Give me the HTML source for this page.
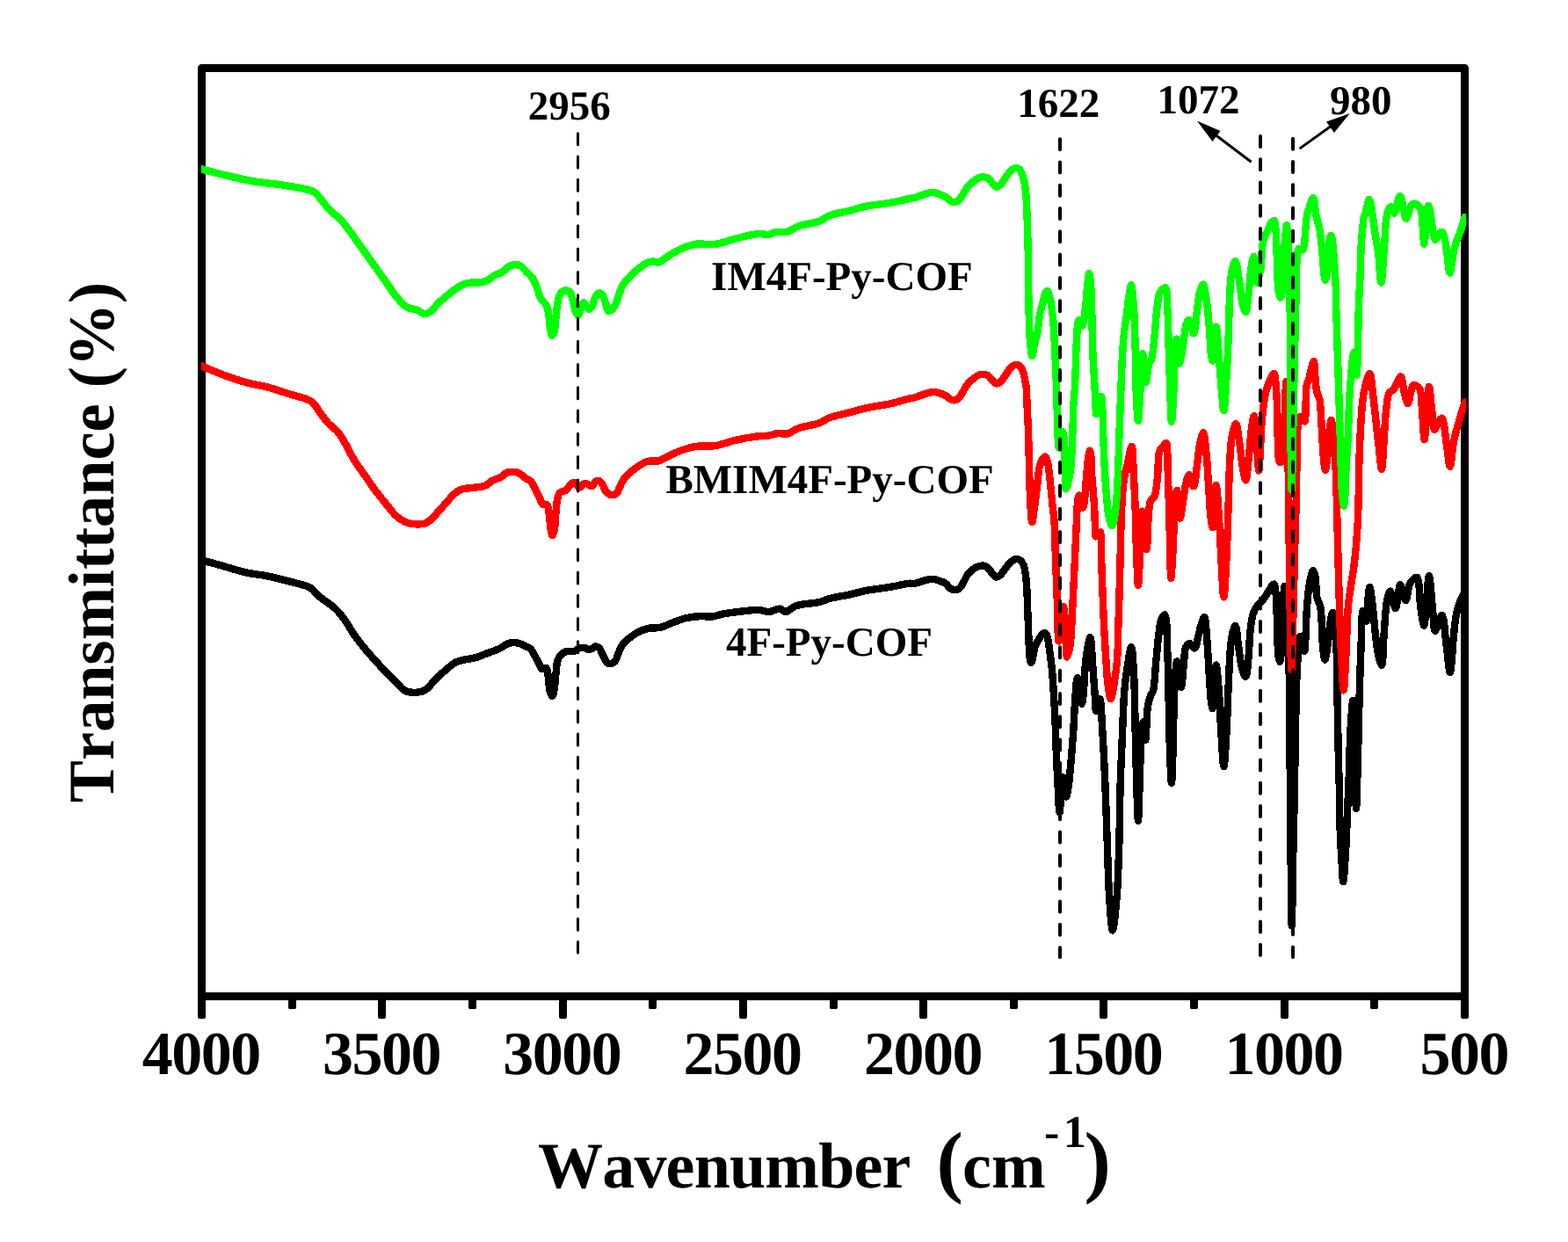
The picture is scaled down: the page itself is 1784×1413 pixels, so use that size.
<!DOCTYPE html>
<html lang="en"><head><meta charset="utf-8"><title>FT-IR spectra</title>
<style>
html,body{margin:0;padding:0;background:#fff;}
body{width:1784px;height:1413px;overflow:hidden;}
svg{display:block;}
text{font-family:"Liberation Serif","DejaVu Serif",serif;font-weight:bold;fill:#000;font-kerning:none;font-variant-ligatures:none;text-rendering:geometricPrecision;}
.curve{fill:none;stroke-linejoin:round;stroke-linecap:round;shape-rendering:crispEdges;}
.dash{stroke:#000;fill:none;}
</style></head><body>
<svg width="1784" height="1413" viewBox="0 0 1784 1413">
<rect x="0" y="0" width="1784" height="1413" fill="#fff"/>
<rect x="229.5" y="77.5" width="1437.0" height="1056.0" fill="none" stroke="#000" stroke-width="9" stroke-linejoin="round"/>
<rect x="225" y="1133.5" width="9" height="25.5" rx="2.2" fill="#000"/>
<rect x="328" y="1133.5" width="9" height="14.6" rx="2.2" fill="#000"/>
<rect x="430" y="1133.5" width="9" height="25.5" rx="2.2" fill="#000"/>
<rect x="533" y="1133.5" width="9" height="14.6" rx="2.2" fill="#000"/>
<rect x="636" y="1133.5" width="9" height="25.5" rx="2.2" fill="#000"/>
<rect x="738" y="1133.5" width="9" height="14.6" rx="2.2" fill="#000"/>
<rect x="841" y="1133.5" width="9" height="25.5" rx="2.2" fill="#000"/>
<rect x="944" y="1133.5" width="9" height="14.6" rx="2.2" fill="#000"/>
<rect x="1046" y="1133.5" width="9" height="25.5" rx="2.2" fill="#000"/>
<rect x="1149" y="1133.5" width="9" height="14.6" rx="2.2" fill="#000"/>
<rect x="1251" y="1133.5" width="9" height="25.5" rx="2.2" fill="#000"/>
<rect x="1354" y="1133.5" width="9" height="14.6" rx="2.2" fill="#000"/>
<rect x="1457" y="1133.5" width="9" height="25.5" rx="2.2" fill="#000"/>
<rect x="1559" y="1133.5" width="9" height="14.6" rx="2.2" fill="#000"/>
<rect x="1662" y="1133.5" width="9" height="25.5" rx="2.2" fill="#000"/>
<text x="228.8" y="1221.8" font-size="70" letter-spacing="-1.5" text-anchor="middle">4000</text>
<text x="434.0" y="1221.8" font-size="70" letter-spacing="-1.5" text-anchor="middle">3500</text>
<text x="639.3" y="1221.8" font-size="70" letter-spacing="-1.5" text-anchor="middle">3000</text>
<text x="844.6" y="1221.8" font-size="70" letter-spacing="-1.5" text-anchor="middle">2500</text>
<text x="1049.9" y="1221.8" font-size="70" letter-spacing="-1.5" text-anchor="middle">2000</text>
<text x="1255.2" y="1221.8" font-size="70" letter-spacing="-1.5" text-anchor="middle">1500</text>
<text x="1460.5" y="1221.8" font-size="70" letter-spacing="-1.5" text-anchor="middle">1000</text>
<text x="1665.8" y="1221.8" font-size="70" letter-spacing="-1.5" text-anchor="middle">500</text>
<text y="1351" font-size="74"><tspan x="612" letter-spacing="-0.8">Wavenumber</tspan> <tspan x="1065.4" font-size="91">(</tspan><tspan x="1095.1">cm</tspan><tspan x="1188" y="1305.3" font-size="52" dx="0 4.5">-1</tspan><tspan x="1233.4" y="1351" font-size="91">)</tspan></text>
<text transform="translate(129.2,617) rotate(-90) scale(0.977,1)" font-size="74" text-anchor="middle">Transmittance (%)</text>
<defs><clipPath id="plotclip"><rect x="228.8" y="70" width="1439.4" height="1068"/></clipPath></defs>
<g clip-path="url(#plotclip)">
<path class="curve" d="M229.3,637.2C229.3,637.2 245.7,641.7 254.0,644.0C262.4,646.4 271.0,649.4 279.5,651.3C287.9,653.2 296.5,653.8 304.9,655.5C313.4,657.3 322.6,659.8 330.4,661.8C337.1,663.5 344.9,665.3 349.1,666.9C351.4,667.8 352.3,668.1 354.2,669.5C357.2,671.6 360.7,676.5 364.4,679.6C368.1,682.7 372.7,685.2 376.3,688.1C379.5,690.6 382.1,692.9 384.8,695.8C387.8,699.0 390.4,702.7 393.3,706.8C396.7,711.6 399.8,717.8 403.5,723.0C407.2,728.3 411.4,733.4 415.4,738.3C419.3,743.0 423.1,747.3 427.2,751.8C431.5,756.6 436.6,761.9 440.8,766.3C444.4,770.0 447.8,773.3 451.0,776.5C454.0,779.5 456.6,783.2 459.5,785.0C461.7,786.4 463.6,787.1 466.3,787.5C470.0,788.0 476.4,787.7 479.9,786.7C482.4,786.0 483.8,785.0 485.9,783.3C488.8,781.0 492.0,776.4 495.2,773.1C498.5,769.8 503.0,765.9 505.4,763.7C506.7,762.5 507.1,762.1 508.5,761.0C510.9,759.1 515.3,755.1 518.7,753.4C521.5,752.0 524.0,751.6 527.2,750.8C531.2,749.8 536.3,749.5 540.8,748.3C545.4,747.0 549.9,744.9 554.4,743.2C558.9,741.5 564.1,740.0 568.0,738.1C571.2,736.5 573.9,734.2 576.4,733.0C578.3,732.1 579.6,731.6 581.5,731.3C583.9,731.0 587.4,731.2 590.0,731.8C592.4,732.4 594.5,733.7 596.8,734.7C599.1,735.8 601.7,736.3 603.6,738.1C605.8,740.1 607.1,743.8 608.7,746.6C610.2,749.2 611.7,751.7 613.0,754.2C614.2,756.5 614.8,760.2 616.4,761.0C617.8,761.7 620.3,759.3 621.5,760.1C623.1,761.2 623.1,765.9 623.7,769.5C624.5,774.3 624.5,782.5 625.7,786.5C626.4,788.9 627.5,792.0 628.3,791.9C629.3,791.8 630.1,786.5 630.8,783.1C631.7,778.4 631.9,771.4 632.5,766.1C633.0,761.3 633.1,756.2 634.2,752.5C635.0,749.8 636.0,747.6 637.6,745.7C639.3,743.7 641.9,741.8 644.4,741.0C647.0,740.2 650.3,741.7 652.9,741.0C655.4,740.4 657.4,737.8 659.7,737.2C661.7,736.7 663.8,736.9 665.6,737.2C667.2,737.5 668.5,738.8 669.9,738.9C671.1,739.0 672.1,738.6 673.3,738.1C674.7,737.5 676.1,735.6 677.5,735.5C678.9,735.4 680.6,736.1 681.8,737.2C683.6,738.8 684.6,743.0 686.0,745.7C687.4,748.3 688.6,751.9 690.3,753.4C691.5,754.5 693.0,755.2 694.5,755.1C696.1,755.0 698.2,754.0 699.6,752.5C701.6,750.4 702.4,745.5 703.9,742.3C705.3,739.3 706.2,736.4 708.1,733.8C710.1,731.0 713.0,728.5 715.7,726.2C718.4,724.0 720.9,722.0 724.2,720.2C728.1,718.1 733.2,715.8 737.8,714.8C742.3,713.8 747.1,714.9 751.4,713.9C755.6,713.0 759.0,710.8 763.3,709.2C768.4,707.3 774.6,704.6 780.3,703.2C785.8,701.9 791.7,701.3 797.0,701.1C801.8,700.9 806.3,702.1 810.6,701.6C814.7,701.1 817.8,699.4 822.5,698.5C829.4,697.2 840.6,695.9 848.0,695.1C853.7,694.5 858.5,693.7 863.2,693.9C867.4,694.1 871.2,696.2 875.1,696.0C879.1,695.8 883.6,692.3 887.0,692.6C889.6,692.8 891.2,696.1 893.8,696.0C897.2,695.9 900.7,690.9 905.7,689.2C912.7,686.7 926.1,686.7 932.9,684.9C937.2,683.8 938.9,682.4 943.1,681.2C949.3,679.5 959.6,678.0 966.9,676.4C973.1,675.0 977.4,673.5 983.9,672.2C992.6,670.5 1005.3,669.2 1014.4,667.6C1021.9,666.3 1030.2,664.0 1034.8,663.7C1037.1,663.5 1038.0,664.2 1040.0,664.0C1043.1,663.6 1047.7,661.5 1051.3,660.6C1054.5,659.8 1057.5,658.7 1060.4,658.7C1063.1,658.7 1065.7,659.7 1068.3,660.6C1071.0,661.5 1074.1,662.5 1076.2,664.0C1078.1,665.4 1079.0,667.9 1080.8,669.1C1082.5,670.2 1084.5,671.3 1086.4,671.3C1088.3,671.3 1090.5,670.4 1092.1,669.1C1094.0,667.5 1095.1,664.3 1096.6,661.7C1098.2,659.0 1099.3,655.7 1101.2,653.2C1103.1,650.8 1105.7,648.6 1108.0,647.0C1109.9,645.7 1111.6,644.7 1113.6,644.2C1115.7,643.7 1118.4,643.3 1120.4,643.9C1122.2,644.4 1123.5,645.6 1124.9,647.0C1126.6,648.6 1127.9,651.5 1129.5,653.2C1130.8,654.6 1132.0,656.4 1133.4,656.6C1134.8,656.8 1136.5,655.6 1138.0,654.4C1140.1,652.7 1142.2,648.9 1144.2,646.4C1146.1,644.0 1147.9,641.4 1149.9,639.6C1151.7,638.1 1153.6,636.5 1155.5,636.2C1157.2,635.9 1159.2,636.4 1160.6,637.4C1162.3,638.5 1163.6,640.7 1164.6,643.0C1165.8,645.8 1166.2,649.5 1166.8,653.2C1167.5,657.7 1167.8,662.5 1168.2,668.0C1168.7,674.7 1168.8,683.1 1169.1,690.6C1169.4,698.2 1169.7,705.7 1170.0,713.3C1170.3,720.8 1170.4,729.3 1170.8,735.9C1171.1,741.0 1171.3,746.2 1171.9,749.5C1172.2,751.4 1172.6,754.0 1173.1,754.0C1173.7,754.0 1174.6,749.8 1175.3,747.2C1176.2,743.9 1176.4,739.3 1177.6,735.9C1178.6,733.0 1180.1,730.5 1181.6,728.0C1183.0,725.6 1184.6,722.5 1186.1,721.2C1187.0,720.4 1188.1,719.6 1188.9,719.8C1190.0,720.1 1191.2,723.1 1191.8,724.6C1192.2,725.8 1192.2,726.5 1192.4,728.0C1192.9,730.8 1193.6,735.4 1194.2,740.0C1195.1,746.4 1196.2,754.4 1197.0,762.7C1198.0,772.9 1198.6,785.3 1199.3,796.6C1200.0,807.9 1200.5,819.3 1201.0,830.6C1201.5,841.9 1201.6,853.8 1202.1,864.6C1202.5,874.5 1203.2,884.5 1203.6,893.0C1203.9,900.0 1204.0,906.4 1204.4,912.0C1204.7,916.5 1205.2,924.0 1205.6,924.0C1206.1,924.0 1206.6,911.5 1207.2,905.0C1207.8,898.2 1208.4,884.0 1209.3,884.0C1209.9,884.0 1210.7,890.5 1211.3,894.0C1212.0,897.9 1212.5,906.6 1213.2,906.6C1213.9,906.6 1214.9,899.5 1215.6,895.0C1216.6,888.7 1217.3,879.3 1218.0,872.0C1218.6,865.4 1219.1,859.8 1219.6,853.3C1220.2,846.1 1220.8,838.2 1221.3,830.6C1221.8,823.1 1222.1,815.0 1222.5,808.0C1222.9,801.9 1223.2,796.5 1223.6,791.0C1224.0,785.8 1224.1,779.7 1224.7,776.0C1225.1,773.8 1225.6,770.9 1226.1,770.9C1226.8,770.9 1227.6,777.8 1228.3,782.0C1229.2,787.5 1230.0,801.0 1230.8,801.0C1231.4,801.0 1232.1,794.5 1232.6,790.0C1233.4,782.9 1233.7,770.7 1234.4,762.7C1234.9,756.4 1235.2,751.6 1236.1,745.7C1237.1,739.2 1239.2,725.2 1240.3,725.3C1241.8,725.4 1242.5,749.1 1243.5,760.8C1244.4,772.3 1245.3,786.2 1246.0,795.1C1246.5,800.8 1246.3,809.0 1247.2,809.1C1248.1,809.2 1250.1,795.0 1251.2,795.1C1252.9,795.3 1253.4,818.4 1254.4,832.5C1255.6,850.6 1256.6,874.0 1257.5,894.8C1258.4,915.6 1258.9,936.3 1259.7,957.1C1260.5,977.9 1260.9,1001.1 1262.1,1019.4C1263.1,1034.0 1264.5,1058.5 1265.9,1058.5C1267.3,1058.5 1269.5,1034.0 1270.7,1019.4C1272.2,1001.1 1272.7,977.9 1273.4,957.1C1274.0,936.3 1274.0,915.6 1274.6,894.8C1275.2,874.0 1276.3,851.8 1277.1,832.5C1277.8,815.8 1278.2,798.9 1279.3,785.8C1280.1,776.2 1281.1,769.1 1282.4,760.8C1283.7,752.5 1285.8,736.1 1287.1,736.2C1288.6,736.3 1289.4,757.1 1290.2,770.2C1291.2,787.8 1291.2,811.7 1291.7,832.5C1292.2,853.3 1292.7,876.5 1293.3,894.8C1293.8,909.3 1294.3,933.7 1294.9,933.7C1295.6,933.7 1296.3,896.7 1297.0,879.2C1297.6,863.0 1297.7,842.8 1298.9,832.5C1299.5,827.3 1300.4,821.0 1301.1,821.0C1302.0,821.0 1302.6,841.8 1303.3,841.8C1304.2,841.8 1304.4,813.6 1305.8,804.5C1306.6,799.2 1307.7,795.4 1308.9,792.0C1309.8,789.5 1311.1,788.8 1312.0,785.8C1313.8,779.5 1314.1,765.0 1315.1,754.6C1316.1,744.2 1317.0,732.5 1318.2,723.5C1319.1,716.5 1319.5,709.0 1321.3,704.8C1322.4,702.3 1324.3,699.2 1325.4,699.5C1328.0,700.3 1327.5,724.3 1328.2,739.0C1329.1,757.4 1329.3,780.5 1329.8,801.3C1330.3,822.1 1330.6,847.0 1331.3,863.6C1331.8,874.6 1332.4,891.1 1332.9,891.1C1333.5,891.1 1334.2,863.8 1334.7,848.1C1335.3,829.3 1335.3,803.3 1336.3,785.8C1337.0,772.9 1337.8,752.4 1339.1,752.4C1340.3,752.4 1342.5,781.7 1343.8,781.7C1345.1,781.7 1345.9,762.8 1346.9,754.6C1347.7,747.8 1347.3,739.5 1349.4,735.9C1350.6,733.9 1352.5,732.1 1354.0,732.2C1355.7,732.3 1357.9,737.9 1359.3,737.5C1361.3,737.0 1362.2,728.0 1363.4,723.5C1364.6,719.2 1365.3,714.8 1366.5,711.0C1367.6,707.7 1369.2,701.9 1370.2,702.0C1371.9,702.2 1372.5,719.6 1373.4,729.7C1374.5,741.9 1375.1,757.9 1375.9,770.2C1376.6,780.4 1377.1,791.8 1378.0,798.2C1378.5,801.6 1379.1,806.0 1379.6,806.0C1380.9,805.9 1382.2,756.5 1383.6,756.5C1384.6,756.5 1385.9,774.9 1386.8,785.8C1387.9,799.5 1388.3,817.6 1389.3,832.5C1390.2,846.2 1391.4,872.1 1392.4,872.1C1393.4,872.1 1394.7,846.7 1395.5,832.5C1396.5,816.1 1396.9,796.0 1397.7,779.5C1398.4,765.1 1398.8,749.9 1399.8,739.0C1400.5,731.6 1401.0,725.2 1402.3,720.3C1403.2,716.9 1404.6,711.8 1405.5,711.9C1407.1,712.1 1407.9,727.8 1409.2,735.9C1410.5,744.1 1411.4,754.6 1413.2,760.8C1414.4,764.7 1416.2,770.1 1417.3,769.9C1418.9,769.7 1419.6,756.2 1420.4,748.4C1421.4,739.0 1421.5,726.3 1422.6,717.2C1423.4,710.2 1424.0,703.6 1425.7,698.5C1426.9,694.8 1428.5,691.9 1430.4,689.2C1432.2,686.8 1434.6,685.4 1436.6,683.0C1438.8,680.3 1440.7,676.7 1442.8,673.6C1444.9,670.5 1447.9,664.2 1449.4,664.5C1450.9,664.8 1451.1,672.0 1451.6,676.0C1452.1,680.4 1452.2,684.9 1452.4,690.0C1452.7,696.1 1452.8,703.0 1453.0,710.0C1453.2,717.9 1453.3,728.0 1453.7,735.0C1454.0,740.0 1454.2,744.8 1454.8,748.0C1455.2,750.0 1455.9,752.8 1456.3,752.8C1456.9,752.7 1457.4,746.4 1457.8,742.0C1458.4,735.0 1458.4,723.8 1458.7,715.0C1459.0,706.5 1459.2,698.2 1459.7,690.0C1460.2,682.2 1460.9,667.0 1461.5,667.0C1462.2,667.0 1462.9,688.5 1463.6,700.0C1464.3,712.7 1465.0,727.2 1465.6,740.0C1466.1,751.8 1466.6,760.3 1466.9,774.0C1467.4,794.9 1467.2,830.1 1467.4,853.0C1467.6,870.7 1467.9,882.1 1468.1,900.0C1468.4,924.0 1468.4,957.3 1468.7,984.0C1469.0,1008.3 1469.4,1053.5 1469.8,1053.5C1470.2,1053.5 1470.5,1008.3 1471.0,984.0C1471.5,957.3 1472.5,924.0 1472.9,900.0C1473.2,882.1 1473.3,870.7 1473.6,853.0C1474.0,830.1 1474.6,793.2 1475.3,774.0C1475.7,763.0 1476.2,755.5 1476.6,748.0C1476.9,742.3 1477.1,737.4 1477.6,733.0C1478.0,729.6 1478.4,724.1 1479.1,724.0C1479.7,723.9 1480.7,728.4 1481.5,731.0C1482.4,734.0 1483.6,741.1 1484.2,741.0C1485.0,740.9 1485.1,730.8 1485.4,726.0C1485.7,721.6 1485.7,718.1 1485.9,713.3C1486.2,706.8 1486.4,698.2 1487.0,690.6C1487.6,683.1 1488.4,674.3 1489.3,668.0C1490.0,663.4 1490.6,659.4 1491.5,656.0C1492.2,653.3 1493.3,649.0 1494.1,649.0C1495.0,649.0 1496.0,653.3 1496.6,656.6C1497.7,662.1 1497.0,673.1 1498.3,679.3C1499.2,683.8 1501.4,686.1 1502.3,690.6C1503.6,696.8 1503.5,705.7 1504.0,713.3C1504.5,720.9 1504.4,729.3 1505.1,736.0C1505.7,741.4 1506.5,750.6 1507.4,750.6C1508.3,750.6 1509.4,741.5 1510.3,736.0C1511.4,729.0 1511.9,719.0 1513.0,712.0C1513.9,706.4 1515.3,697.0 1516.2,697.0C1517.2,697.0 1518.1,708.5 1518.8,715.0C1519.6,722.6 1520.1,729.6 1520.6,740.0C1521.4,757.1 1521.4,786.4 1521.8,808.0C1522.2,827.7 1522.5,848.1 1522.9,864.6C1523.2,877.3 1523.6,886.5 1523.9,898.5C1524.2,912.0 1524.1,927.7 1524.6,941.5C1525.0,954.4 1525.8,967.8 1526.5,978.9C1527.1,987.9 1527.6,1003.2 1528.3,1003.2C1529.0,1003.2 1530.1,984.0 1530.8,972.7C1531.7,958.8 1532.3,941.6 1533.0,926.0C1533.7,910.4 1534.3,894.8 1534.9,879.2C1535.5,863.6 1535.6,847.0 1536.4,832.5C1537.1,819.8 1538.6,796.7 1539.3,796.7C1540.3,796.7 1540.5,842.3 1541.1,863.6C1541.7,883.1 1542.4,919.7 1543.0,919.7C1543.6,919.7 1544.3,882.8 1544.9,863.6C1545.5,843.4 1545.9,819.9 1546.4,801.3C1546.8,786.1 1547.2,772.0 1547.6,760.0C1547.9,750.6 1548.3,743.5 1548.6,735.0C1548.9,726.2 1548.8,715.4 1549.3,708.0C1549.6,702.9 1549.8,695.1 1550.6,695.0C1551.1,694.9 1551.9,698.2 1552.5,700.0C1553.2,702.1 1553.8,707.0 1554.3,707.0C1554.9,707.0 1555.2,699.4 1555.6,695.0C1556.1,689.8 1556.3,682.9 1556.8,678.0C1557.2,674.2 1557.7,668.0 1558.3,668.0C1559.3,668.0 1560.9,683.7 1562.0,692.3C1563.2,702.0 1564.0,714.0 1565.1,723.5C1566.1,731.4 1566.8,739.2 1568.2,745.3C1569.3,749.8 1571.0,756.9 1572.0,756.8C1573.6,756.6 1573.7,734.4 1574.5,723.5C1575.3,712.9 1575.9,700.5 1576.9,692.3C1577.5,686.9 1578.0,682.6 1579.0,679.0C1579.7,676.4 1580.8,672.5 1581.6,672.5C1582.5,672.5 1583.1,677.2 1584.0,680.0C1585.1,683.6 1586.8,692.4 1587.9,692.3C1589.1,692.2 1589.8,681.5 1590.7,676.7C1591.5,672.6 1592.1,665.3 1593.1,665.2C1594.0,665.1 1595.3,670.7 1596.3,673.6C1597.4,676.6 1598.3,683.0 1599.4,683.0C1600.9,682.9 1602.0,668.5 1604.0,664.3C1605.2,661.8 1606.5,660.3 1608.0,659.0C1609.3,657.9 1611.0,656.2 1612.1,656.8C1615.3,658.4 1614.9,682.3 1616.5,692.3C1617.7,699.7 1619.2,711.6 1620.2,711.6C1621.5,711.5 1622.1,692.5 1623.1,683.0C1624.0,673.7 1624.9,655.2 1625.9,655.2C1627.1,655.2 1628.7,681.1 1629.9,692.3C1630.9,701.6 1631.1,717.7 1632.7,717.9C1633.8,718.1 1635.4,711.0 1636.8,707.9C1638.1,705.1 1639.6,699.9 1640.8,700.1C1643.0,700.5 1644.0,721.9 1645.5,732.8C1647.0,743.5 1648.5,764.9 1649.8,764.9C1651.3,764.9 1652.6,735.6 1653.9,723.5C1654.9,714.1 1655.5,705.8 1657.0,698.5C1658.2,692.7 1660.1,687.0 1661.7,683.0C1662.7,680.4 1664.8,676.7 1664.8,676.7" stroke="#000" stroke-width="8.4"/>
<path class="curve" d="M229.3,416.3C229.3,416.3 245.6,423.4 254.0,426.5C262.4,429.6 270.9,432.6 279.5,435.0C287.9,437.3 296.5,438.4 304.9,440.6C313.4,442.9 322.6,446.2 330.4,448.6C337.1,450.7 344.5,452.2 349.1,454.2C352.0,455.4 353.7,456.1 355.9,458.0C358.9,460.7 361.5,465.9 364.4,469.8C367.2,473.6 369.7,477.3 372.9,480.9C376.4,484.7 381.4,487.8 384.8,491.9C388.2,496.0 390.4,500.6 393.3,505.5C396.6,511.2 399.8,518.2 403.5,524.2C407.2,530.1 411.4,535.5 415.4,541.2C419.3,546.9 423.0,552.6 427.2,558.2C431.5,563.9 436.6,570.1 440.8,575.2C444.4,579.6 447.4,583.9 451.0,587.1C454.2,589.9 458.0,592.4 461.2,593.9C463.6,595.0 465.2,595.5 468.0,595.9C472.0,596.4 479.3,596.7 483.3,595.5C486.2,594.6 487.7,593.2 490.1,591.3C493.3,588.6 497.1,583.8 500.3,580.3C503.2,577.1 505.7,574.1 508.5,571.0C511.3,567.9 514.0,564.2 517.0,561.7C519.7,559.5 522.3,557.7 525.5,556.6C529.0,555.3 533.2,555.6 537.4,554.9C542.2,554.2 548.8,554.0 552.7,552.3C555.6,551.1 556.9,548.7 559.5,547.2C562.4,545.5 566.7,544.7 569.6,543.0C572.2,541.5 574.1,538.9 576.4,537.9C578.4,537.0 580.3,536.7 582.4,536.7C584.8,536.7 587.6,536.9 590.0,537.9C592.7,539.1 595.2,542.0 597.7,543.8C600.0,545.4 602.7,546.2 604.5,548.1C606.4,550.1 607.3,553.0 608.7,555.7C610.3,558.8 612.3,562.7 613.8,565.9C615.1,568.6 615.5,572.2 617.2,573.5C618.5,574.5 621.0,573.2 622.3,574.4C624.2,576.2 624.2,582.1 624.9,586.3C625.7,591.1 625.8,597.4 626.6,601.6C627.2,604.6 627.9,609.2 628.6,609.2C629.4,609.2 630.5,603.5 631.1,599.9C631.9,595.1 632.0,588.4 632.5,582.9C633.0,577.7 633.2,571.6 634.2,567.6C634.9,564.8 635.1,562.5 636.7,560.8C638.4,559.0 642.3,559.1 644.4,557.4C646.5,555.7 647.6,552.0 649.5,550.6C651.0,549.5 653.1,548.4 654.6,548.9C656.3,549.5 657.4,554.7 658.8,554.9C659.9,555.1 661.1,553.2 662.2,552.3C663.3,551.5 664.4,550.0 665.6,549.8C666.9,549.6 668.6,550.9 669.9,551.5C671.1,552.0 672.2,553.4 673.3,553.2C674.8,552.9 676.0,549.1 677.5,548.1C678.6,547.3 679.8,546.7 680.9,546.9C682.3,547.2 683.9,548.9 685.2,550.6C686.9,552.7 687.7,557.0 689.4,559.1C690.7,560.7 691.9,562.0 693.7,562.5C695.8,563.1 699.4,563.0 701.3,561.7C703.4,560.2 704.0,556.1 705.5,553.2C707.1,550.1 708.3,546.7 710.6,543.8C713.2,540.5 716.9,537.4 720.8,534.5C725.2,531.2 730.9,526.7 736.1,525.1C740.6,523.7 745.4,525.4 749.7,524.3C753.9,523.2 757.5,520.2 761.6,518.3C766.0,516.3 770.6,514.0 775.2,512.4C779.7,510.8 784.8,509.3 788.8,508.5C791.9,507.9 793.8,507.6 797.0,507.4C801.6,507.0 808.0,508.0 814.0,507.1C820.9,506.1 828.4,502.7 836.1,501.0C844.2,499.1 854.3,497.3 861.5,496.4C866.7,495.8 870.9,496.1 875.1,495.5C878.8,494.9 881.9,493.3 885.3,493.0C888.7,492.7 892.0,494.2 895.5,493.5C899.8,492.6 903.8,488.9 909.1,487.0C915.8,484.6 926.7,483.5 932.9,481.1C937.1,479.4 938.9,477.2 943.1,475.5C949.3,473.0 959.6,471.1 966.9,469.2C973.0,467.6 977.4,466.1 983.9,464.6C992.6,462.6 1005.3,461.1 1014.4,459.0C1021.9,457.3 1030.2,454.4 1034.8,453.4C1037.1,452.9 1038.0,453.0 1040.0,452.5C1043.1,451.7 1047.6,449.6 1051.3,448.5C1054.8,447.5 1058.3,446.1 1061.5,446.0C1064.3,445.9 1066.9,446.7 1069.4,447.4C1071.8,448.1 1074.1,449.0 1076.2,450.2C1078.3,451.4 1080.0,453.7 1081.9,454.5C1083.4,455.2 1084.9,455.5 1086.4,455.3C1088.0,455.1 1089.6,454.3 1091.0,453.0C1092.8,451.4 1093.9,448.3 1095.5,445.7C1097.3,442.8 1099.0,439.2 1101.2,436.6C1103.2,434.2 1105.8,432.1 1108.0,430.4C1109.9,428.9 1111.6,427.4 1113.6,426.7C1115.4,426.0 1117.5,425.7 1119.3,425.9C1121.1,426.1 1122.8,426.6 1124.4,427.6C1126.3,428.8 1127.8,431.6 1129.5,433.2C1131.0,434.6 1132.5,436.5 1134.0,436.6C1135.5,436.7 1137.1,435.6 1138.5,434.4C1140.5,432.7 1142.3,429.1 1144.2,426.4C1146.1,423.8 1147.8,420.5 1149.9,418.5C1151.6,416.9 1153.7,415.2 1155.5,414.9C1157.0,414.7 1158.7,415.2 1160.0,416.2C1161.7,417.5 1163.0,420.4 1164.0,423.0C1165.2,426.0 1165.7,430.1 1166.3,433.2C1166.8,435.7 1167.3,437.1 1167.6,440.0C1168.2,445.2 1168.2,454.6 1168.6,462.0C1169.0,469.7 1169.4,476.3 1169.8,485.3C1170.3,497.9 1170.6,515.8 1171.0,530.6C1171.4,544.7 1171.6,560.4 1172.3,572.0C1172.8,580.5 1173.5,594.0 1174.3,594.0C1175.0,594.0 1175.8,585.4 1176.6,580.0C1177.7,572.5 1178.9,561.8 1180.0,553.3C1181.0,545.4 1181.3,536.3 1182.8,530.6C1183.7,527.0 1184.9,523.9 1186.3,522.0C1187.2,520.8 1188.3,519.4 1189.1,519.6C1190.2,519.8 1191.1,522.6 1191.8,525.0C1193.0,529.0 1193.4,535.3 1194.2,541.9C1195.3,551.3 1196.6,567.0 1197.6,575.9C1198.2,581.6 1198.8,584.0 1199.3,590.0C1200.2,600.8 1200.4,620.2 1201.0,635.3C1201.6,650.4 1202.3,666.6 1202.7,680.6C1203.1,692.7 1203.1,705.6 1203.5,714.6C1203.8,720.6 1203.9,729.5 1204.4,729.5C1204.9,729.5 1205.8,718.2 1206.6,712.0C1207.5,705.1 1208.9,690.0 1209.8,690.0C1210.4,690.0 1211.0,695.8 1211.4,700.0C1212.1,707.3 1212.1,721.3 1212.6,730.0C1213.0,736.6 1213.0,747.4 1213.9,747.5C1214.7,747.6 1216.6,739.7 1217.4,735.0C1218.5,729.1 1218.6,722.3 1219.1,714.6C1219.8,704.7 1220.2,692.7 1220.8,680.6C1221.5,666.6 1222.3,650.4 1223.0,635.3C1223.7,620.2 1224.4,602.1 1225.0,590.0C1225.4,582.0 1225.5,574.8 1226.2,570.0C1226.6,567.2 1227.2,563.5 1227.8,563.5C1228.5,563.5 1229.4,568.6 1230.2,571.0C1230.9,573.2 1231.7,577.5 1232.3,577.5C1233.1,577.4 1233.7,570.6 1234.3,566.0C1235.1,559.5 1235.4,549.7 1236.1,541.9C1236.8,534.4 1237.4,525.3 1238.3,520.0C1238.8,516.9 1239.5,512.6 1240.0,512.6C1240.6,512.6 1241.2,518.3 1241.6,522.0C1242.2,527.4 1241.9,534.4 1242.3,541.9C1242.9,551.7 1244.5,565.5 1245.1,575.9C1245.6,584.6 1245.6,593.6 1246.0,600.0C1246.2,604.2 1246.0,610.1 1246.8,610.4C1247.3,610.6 1248.1,608.3 1249.0,607.5C1249.9,606.7 1251.5,605.0 1252.3,605.5C1253.1,606.8 1252.7,624.3 1253.1,635.3C1253.5,648.8 1254.2,666.6 1254.8,680.6C1255.3,692.7 1255.6,703.3 1256.2,714.6C1256.8,725.9 1257.5,737.6 1258.2,748.5C1258.9,758.7 1259.4,769.5 1260.5,778.0C1261.4,784.6 1262.5,795.3 1263.7,795.3C1264.9,795.3 1266.4,784.6 1267.5,778.0C1269.0,769.5 1270.4,758.7 1271.2,748.5C1272.1,737.6 1271.9,725.9 1272.3,714.6C1272.7,703.3 1273.0,692.7 1273.4,680.6C1273.8,666.6 1274.2,650.4 1274.6,635.3C1275.0,620.2 1275.2,603.5 1275.7,590.0C1276.1,579.0 1276.6,568.9 1277.3,560.0C1277.9,552.9 1278.4,546.8 1279.5,541.0C1280.4,535.9 1281.8,532.0 1283.0,527.0C1284.4,521.1 1286.5,507.7 1287.6,507.8C1289.1,507.9 1289.2,530.5 1289.9,541.9C1290.6,553.2 1291.1,563.8 1291.6,575.9C1292.1,589.6 1292.2,605.2 1292.8,620.0C1293.4,635.1 1294.2,665.9 1295.0,665.9C1295.7,665.9 1296.6,638.8 1297.3,625.0C1298.1,610.7 1298.5,581.6 1299.5,581.6C1300.3,581.6 1301.4,598.4 1302.3,606.0C1303.1,612.7 1303.9,625.0 1304.6,625.0C1305.5,625.0 1305.8,599.9 1306.6,590.0C1307.2,582.7 1307.3,574.9 1308.6,571.0C1309.2,569.1 1310.1,568.1 1311.0,567.0C1311.8,566.0 1312.9,566.0 1313.6,564.6C1315.5,561.0 1316.2,549.7 1317.0,541.9C1317.9,533.6 1317.5,521.4 1318.6,516.0C1319.1,513.5 1319.7,512.0 1320.6,510.6C1321.4,509.5 1322.5,509.0 1323.4,508.0C1324.5,506.8 1325.8,503.5 1326.7,503.8C1328.9,504.5 1328.3,528.7 1328.9,541.9C1329.5,556.3 1329.9,572.6 1330.3,586.9C1330.7,599.9 1330.9,612.2 1331.2,624.3C1331.5,635.8 1331.7,658.0 1332.3,658.0C1332.9,658.0 1333.9,636.9 1334.6,625.0C1335.4,611.2 1335.6,592.4 1336.6,580.0C1337.3,571.3 1338.2,557.8 1339.1,557.8C1340.2,557.8 1341.1,589.7 1342.5,589.7C1343.6,589.7 1345.1,575.1 1346.3,568.2C1347.4,561.8 1348.0,554.6 1349.4,549.5C1350.4,545.8 1351.8,540.2 1353.1,540.2C1354.7,540.2 1356.7,553.4 1358.1,553.3C1359.8,553.1 1360.7,538.5 1361.8,530.8C1363.0,522.7 1363.5,512.9 1365.0,505.9C1366.1,500.6 1367.8,492.1 1369.0,492.2C1370.6,492.3 1371.7,509.3 1372.7,518.4C1373.7,528.3 1374.2,538.7 1374.9,549.5C1375.7,561.4 1376.3,577.6 1377.4,586.9C1378.0,592.4 1378.9,600.0 1379.6,600.0C1381.0,599.9 1382.3,552.0 1383.6,552.0C1384.7,552.0 1385.9,574.4 1386.8,586.9C1387.8,601.3 1388.4,618.1 1389.3,633.6C1390.2,648.9 1391.4,679.4 1392.4,679.4C1393.4,679.4 1394.7,650.0 1395.5,633.6C1396.5,614.4 1397.1,590.6 1397.7,571.3C1398.3,554.6 1398.4,538.2 1399.2,524.6C1399.8,514.1 1400.2,504.4 1401.7,496.6C1402.8,490.9 1404.8,481.8 1406.1,481.9C1407.6,482.0 1408.9,495.1 1410.1,502.8C1411.6,512.1 1412.7,526.0 1414.2,534.0C1415.2,539.1 1416.3,546.5 1417.3,546.4C1418.7,546.3 1419.9,528.1 1421.0,518.4C1422.2,508.0 1422.8,494.3 1424.1,486.0C1424.9,480.7 1426.0,473.0 1426.8,473.0C1427.7,473.0 1428.4,483.8 1429.0,490.0C1429.7,497.5 1430.0,507.1 1430.6,515.0C1431.1,522.2 1431.8,535.5 1432.3,535.5C1432.9,535.5 1433.4,519.0 1434.0,510.0C1434.6,499.9 1434.8,488.5 1435.8,477.9C1436.8,467.5 1438.1,455.2 1440.0,447.0C1441.3,441.3 1442.8,436.9 1444.6,433.0C1446.1,429.8 1448.3,424.7 1449.5,424.9C1451.0,425.2 1451.2,434.5 1451.8,440.0C1452.5,446.7 1452.7,453.7 1453.0,462.3C1453.5,474.2 1453.4,493.4 1454.0,505.0C1454.4,513.1 1454.0,523.9 1455.6,525.5C1456.4,526.2 1458.0,525.9 1458.8,525.0C1460.3,522.8 1459.9,512.2 1460.3,505.0C1460.8,496.7 1461.0,488.0 1461.4,477.9C1462.0,465.0 1462.8,434.0 1463.4,434.0C1464.1,434.0 1464.7,475.7 1465.2,500.0C1465.8,529.9 1466.1,566.7 1466.5,600.0C1466.9,633.3 1467.2,670.6 1467.8,700.0C1468.2,723.1 1468.8,762.0 1469.4,762.0C1470.0,762.0 1470.8,721.3 1471.4,700.0C1472.0,677.4 1472.4,651.9 1473.0,630.0C1473.5,610.6 1474.1,594.1 1474.6,575.0C1475.1,554.2 1475.3,527.2 1475.8,510.0C1476.1,498.7 1475.9,488.5 1477.0,482.0C1477.6,478.5 1478.4,474.2 1479.5,474.0C1480.3,473.9 1481.4,476.5 1482.3,477.5C1483.1,478.3 1484.0,479.8 1484.6,479.5C1485.7,478.8 1485.3,463.9 1485.7,456.6C1486.1,449.8 1485.9,441.3 1486.9,437.0C1487.5,434.7 1488.5,434.0 1489.1,432.0C1490.0,429.3 1490.3,425.4 1491.2,422.0C1492.2,418.4 1494.0,410.9 1494.8,411.0C1495.6,411.1 1495.5,418.2 1495.9,422.7C1496.5,429.0 1496.9,439.3 1498.2,445.3C1499.1,449.4 1500.8,451.9 1501.6,455.5C1502.4,459.4 1502.3,462.9 1502.7,468.0C1503.3,476.2 1503.9,490.6 1504.5,500.0C1505.0,507.4 1505.2,513.8 1505.8,520.0C1506.3,525.3 1507.1,534.8 1507.8,534.8C1508.6,534.8 1509.7,525.4 1510.3,520.0C1511.0,513.4 1510.9,505.1 1511.6,498.0C1512.3,491.2 1513.7,478.0 1514.6,478.0C1515.4,478.0 1516.2,489.1 1516.8,495.0C1517.5,501.4 1518.1,507.7 1518.6,515.0C1519.2,524.0 1519.8,534.6 1520.2,545.0C1520.6,556.2 1520.7,564.6 1521.1,580.0C1521.9,609.8 1523.4,678.7 1524.6,711.5C1525.3,731.0 1526.0,744.8 1526.8,758.3C1527.4,768.6 1528.0,785.4 1528.7,785.4C1529.6,785.4 1530.7,757.6 1531.5,742.7C1532.4,726.2 1532.6,704.0 1533.8,690.6C1534.5,682.1 1535.6,676.1 1536.5,670.0C1537.2,665.1 1537.8,660.9 1538.5,656.6C1539.1,652.6 1539.8,648.8 1540.3,645.0C1540.8,641.3 1541.2,637.7 1541.6,634.0C1542.0,630.1 1542.5,625.8 1542.8,622.0C1543.1,618.5 1543.3,615.5 1543.6,612.0C1543.9,608.2 1544.2,604.1 1544.4,600.0C1544.7,595.8 1544.9,592.1 1545.1,587.0C1545.4,579.6 1545.6,569.6 1545.8,560.0C1546.0,549.0 1546.0,537.2 1546.4,524.6C1546.9,510.1 1547.6,491.9 1548.6,477.9C1549.4,466.4 1549.8,456.1 1551.7,446.7C1553.3,438.8 1556.5,425.1 1558.3,425.2C1560.3,425.3 1561.4,443.7 1562.6,453.0C1563.8,462.3 1564.7,471.7 1565.7,481.0C1566.7,490.3 1567.7,499.9 1568.8,509.0C1569.8,517.6 1571.1,534.0 1572.0,534.0C1573.0,534.0 1573.7,513.4 1574.5,502.8C1575.3,491.6 1575.7,478.6 1576.9,468.5C1577.9,460.4 1578.2,450.5 1580.7,446.7C1582.0,444.8 1584.0,445.2 1585.4,443.6C1587.3,441.5 1588.5,437.0 1590.0,434.3C1591.3,432.0 1592.7,428.1 1593.8,428.3C1595.6,428.6 1596.3,441.2 1597.8,446.7C1599.1,451.3 1600.7,459.2 1601.9,459.2C1603.1,459.2 1603.9,450.4 1605.0,446.7C1606.0,443.6 1606.3,439.0 1608.1,438.3C1609.8,437.7 1613.3,439.6 1615.0,442.1C1618.1,446.7 1617.2,459.3 1618.1,468.5C1619.1,478.6 1619.8,500.3 1620.6,500.3C1621.4,500.3 1622.2,478.8 1623.1,468.5C1624.0,458.7 1624.9,439.9 1625.9,439.9C1626.9,439.9 1627.9,457.1 1629.0,465.4C1630.0,473.4 1630.3,488.5 1632.1,488.8C1633.2,489.0 1634.6,483.3 1636.1,481.0C1637.4,479.0 1639.2,475.4 1640.5,475.7C1643.0,476.4 1644.0,493.7 1645.5,502.8C1647.1,512.0 1648.4,530.8 1649.8,530.8C1651.2,530.8 1652.2,511.2 1653.9,502.8C1655.3,495.9 1657.0,490.0 1658.6,484.1C1660.1,478.6 1661.7,473.2 1663.2,468.5C1664.5,464.5 1667.0,457.6 1667.0,457.6" stroke="#f00" stroke-width="8.4"/>
<path class="curve" d="M229.3,192.3C229.3,192.3 245.1,196.6 254.0,198.7C264.4,201.2 276.6,204.2 288.0,206.2C299.3,208.2 311.4,209.0 321.9,210.6C331.0,212.0 340.9,213.5 347.4,215.2C351.6,216.3 354.2,216.3 357.6,218.6C362.7,222.0 367.5,230.7 372.9,236.4C378.3,242.1 384.5,246.5 389.9,252.6C395.9,259.4 401.3,267.8 406.9,275.5C412.6,283.3 418.2,291.4 423.9,299.3C429.5,307.2 435.9,316.2 440.8,323.1C444.6,328.5 447.3,333.1 451.0,337.5C454.6,341.8 458.6,346.9 462.9,349.4C466.6,351.6 471.3,351.4 474.8,352.8C477.7,354.0 480.0,356.8 482.5,357.1C484.5,357.3 486.3,356.7 488.4,355.4C491.9,353.3 496.4,347.1 500.3,343.5C503.7,340.4 506.8,337.8 510.2,335.1C513.5,332.4 516.9,329.6 520.4,327.4C523.7,325.3 526.6,323.4 530.6,322.3C535.8,320.9 544.7,322.1 549.3,321.0C552.2,320.3 553.9,319.4 556.1,318.1C558.5,316.7 560.4,314.4 562.9,313.0C565.5,311.6 568.6,311.2 571.3,309.6C574.3,307.9 576.9,304.2 579.8,302.8C582.3,301.6 585.2,301.0 587.5,301.1C589.4,301.2 590.9,301.8 592.6,302.8C594.9,304.2 597.2,307.4 599.4,309.6C601.4,311.6 603.6,313.1 605.3,315.5C607.3,318.3 608.8,322.0 610.4,325.7C612.2,330.0 613.3,336.3 615.5,340.1C617.2,343.0 620.1,344.3 621.5,346.9C623.0,349.6 623.3,352.7 624.0,356.3C624.9,361.1 625.1,368.6 626.0,373.3C626.6,376.6 627.4,381.7 628.3,381.8C629.0,381.9 630.2,378.9 630.8,376.7C631.9,373.0 631.9,366.5 632.5,361.4C633.1,356.3 633.3,350.8 634.2,346.1C635.0,341.8 635.7,336.9 637.6,334.2C638.9,332.3 640.9,330.9 642.7,330.5C644.3,330.2 646.4,330.5 647.8,331.7C649.7,333.3 650.6,337.6 651.7,341.0C652.9,344.9 653.3,350.5 654.6,353.7C655.5,355.9 656.6,358.8 657.6,358.8C658.6,358.8 659.5,355.1 660.5,352.9C661.6,350.3 662.6,344.6 663.9,344.4C664.9,344.2 666.2,347.3 667.3,348.6C668.2,349.7 668.9,351.5 669.9,351.7C670.9,351.9 672.3,350.8 673.3,349.5C675.1,347.2 675.7,340.4 677.5,337.6C678.7,335.7 680.3,333.5 681.8,333.4C683.2,333.3 684.8,335.1 686.0,336.7C687.6,338.9 688.4,343.1 689.4,346.1C690.3,348.8 690.6,352.9 692.0,353.7C692.9,354.2 694.3,353.6 695.4,352.9C697.1,351.8 699.1,348.7 700.5,346.1C702.0,343.2 702.6,339.4 703.9,335.9C705.3,332.1 706.7,327.7 708.9,324.0C711.2,320.3 714.5,316.9 717.4,313.8C720.1,311.0 722.7,308.7 725.9,306.2C729.4,303.4 734.2,299.4 737.8,298.2C740.3,297.4 742.5,297.6 744.6,297.7C746.4,297.8 748.1,298.9 749.7,298.5C751.5,298.1 752.8,296.4 754.8,295.1C757.6,293.2 761.3,290.5 765.0,288.3C769.1,285.9 774.3,283.2 778.6,281.5C782.2,280.1 786.0,279.2 788.8,278.5C790.7,278.0 791.4,277.7 793.6,277.5C798.0,277.1 807.0,278.7 814.0,277.8C821.7,276.8 829.8,273.2 837.8,271.3C845.7,269.4 854.7,266.8 861.5,266.2C866.6,265.7 871.4,267.3 875.1,266.7C877.8,266.3 879.2,264.7 881.9,264.2C885.6,263.5 891.1,265.0 895.5,263.9C900.2,262.7 903.8,259.0 909.1,257.1C915.8,254.7 926.8,254.0 932.9,251.5C937.2,249.8 938.8,247.2 943.1,245.5C949.2,243.0 959.6,241.5 966.9,239.6C973.1,238.0 977.2,236.4 983.9,235.0C993.2,233.0 1008.5,231.7 1017.8,229.9C1024.5,228.6 1030.8,226.8 1034.8,226.0C1037.0,225.6 1038.0,225.6 1040.0,225.1C1043.1,224.3 1047.6,222.3 1051.3,221.2C1054.8,220.2 1058.2,218.8 1061.5,218.9C1064.6,219.0 1067.8,220.6 1070.6,221.7C1073.1,222.7 1075.4,223.8 1077.4,225.1C1079.1,226.3 1080.3,228.3 1081.9,229.1C1083.3,229.8 1084.9,230.2 1086.4,230.0C1088.0,229.8 1089.6,229.2 1091.0,228.0C1092.8,226.5 1093.9,223.6 1095.5,221.2C1097.3,218.4 1099.0,214.7 1101.2,212.1C1103.2,209.7 1105.7,207.6 1108.0,205.9C1110.2,204.3 1112.6,202.6 1114.7,201.9C1116.3,201.3 1117.7,201.2 1119.3,201.3C1121.0,201.5 1122.8,202.0 1124.4,203.0C1126.3,204.2 1127.8,207.0 1129.5,208.7C1131.0,210.2 1132.5,212.6 1134.0,212.7C1135.5,212.8 1137.0,211.2 1138.5,209.8C1140.5,207.9 1142.3,204.5 1144.2,201.9C1146.1,199.4 1147.8,196.4 1149.9,194.5C1151.6,192.9 1153.7,191.3 1155.5,191.1C1157.0,191.0 1158.8,191.7 1160.0,192.8C1161.6,194.2 1162.5,197.1 1163.4,199.6C1164.4,202.4 1165.1,205.3 1165.7,208.7C1166.5,212.8 1167.0,217.5 1167.4,222.3C1167.9,227.6 1168.0,233.2 1168.3,239.3C1168.6,246.3 1168.9,254.4 1169.1,261.9C1169.3,269.5 1169.5,277.0 1169.7,284.6C1169.8,292.1 1169.9,298.2 1170.0,307.2C1170.2,320.8 1170.3,343.3 1170.7,358.0C1171.0,369.3 1171.2,379.4 1172.0,388.0C1172.6,394.6 1173.4,405.3 1174.3,405.3C1175.1,405.3 1175.8,396.2 1176.8,392.0C1177.7,388.0 1179.1,385.1 1180.0,380.6C1181.3,374.4 1181.7,365.0 1183.1,358.0C1184.3,351.9 1186.1,345.6 1187.4,341.0C1188.3,337.8 1188.8,334.7 1189.8,333.0C1190.4,332.0 1191.1,331.0 1191.7,331.1C1192.5,331.3 1193.1,333.7 1193.8,336.0C1195.2,340.7 1196.7,350.6 1197.6,358.0C1198.5,365.5 1198.8,373.1 1199.3,380.6C1199.8,388.2 1200.0,395.0 1200.4,403.3C1200.9,413.4 1201.5,426.6 1201.9,437.0C1202.2,446.0 1202.4,453.4 1202.6,462.0C1202.9,471.1 1203.0,481.6 1203.4,490.0C1203.7,496.9 1203.9,508.9 1204.6,509.0C1205.1,509.0 1205.8,503.0 1206.6,500.0C1207.4,497.1 1208.5,491.3 1209.2,491.3C1209.8,491.3 1210.2,495.7 1210.6,499.0C1211.3,505.1 1211.2,515.9 1211.6,525.0C1212.0,535.0 1211.6,556.2 1212.9,556.4C1213.7,556.5 1215.3,549.1 1216.2,545.0C1217.2,540.5 1217.9,536.4 1218.5,530.6C1219.4,521.7 1219.7,507.9 1220.2,496.6C1220.7,485.3 1220.8,472.9 1221.3,462.7C1221.7,454.4 1222.5,448.5 1223.0,440.0C1223.6,429.2 1223.8,413.8 1224.2,403.0C1224.5,394.6 1224.9,387.0 1225.3,380.6C1225.6,375.8 1225.6,371.0 1226.3,368.0C1226.7,366.3 1227.2,364.0 1227.8,364.0C1228.4,364.0 1229.2,367.9 1230.0,369.0C1230.5,369.7 1231.1,370.6 1231.6,370.5C1232.5,370.2 1232.8,365.3 1233.4,362.0C1234.2,357.3 1234.9,351.1 1235.5,345.0C1236.2,337.9 1236.8,328.3 1237.5,322.0C1238.0,317.7 1238.5,311.0 1239.1,311.0C1239.6,311.0 1240.3,315.9 1240.8,320.0C1241.7,328.3 1241.9,344.8 1242.3,358.0C1242.8,372.4 1242.8,389.1 1243.4,403.0C1243.9,415.1 1244.9,426.8 1245.4,437.0C1245.8,445.4 1246.0,453.7 1246.4,460.0C1246.7,464.3 1246.8,471.0 1247.3,471.0C1247.8,471.0 1248.6,465.0 1249.3,462.0C1250.0,458.9 1250.6,454.2 1251.5,452.5C1251.9,451.7 1252.4,450.9 1252.8,451.0C1253.7,451.3 1253.8,458.0 1254.2,463.0C1254.8,471.4 1254.9,485.4 1255.3,496.6C1255.7,507.9 1256.1,519.3 1256.7,530.6C1257.3,541.9 1258.1,554.5 1259.0,564.6C1259.7,572.9 1260.1,580.9 1261.5,587.0C1262.5,591.5 1264.2,598.3 1265.3,598.3C1266.4,598.3 1267.5,591.6 1268.3,587.2C1269.4,581.0 1270.0,572.9 1270.6,564.6C1271.4,554.4 1271.8,541.9 1272.3,530.6C1272.8,519.3 1273.0,507.9 1273.4,496.6C1273.8,485.3 1274.2,472.9 1274.6,462.7C1274.9,454.4 1275.1,448.5 1275.5,440.0C1275.9,429.2 1276.5,413.8 1277.1,403.0C1277.6,394.6 1278.0,388.1 1278.8,380.6C1279.6,373.1 1280.9,365.6 1281.9,358.0C1282.9,350.4 1283.7,341.2 1284.8,335.0C1285.5,330.7 1286.4,324.2 1287.1,324.2C1288.3,324.3 1289.4,343.5 1290.2,354.5C1291.1,367.7 1291.3,383.3 1291.7,398.1C1292.1,413.4 1292.1,430.5 1292.7,444.8C1293.2,457.0 1294.1,478.8 1294.9,478.8C1295.7,478.8 1296.6,456.8 1297.4,444.8C1298.3,431.4 1299.1,402.1 1300.2,402.1C1301.2,402.1 1302.3,435.5 1303.6,435.5C1304.7,435.5 1305.7,418.6 1307.3,413.6C1308.2,410.8 1309.5,410.3 1310.4,407.4C1312.1,402.0 1312.6,391.5 1313.6,382.5C1314.7,372.0 1315.4,357.4 1316.7,348.2C1317.6,342.0 1317.7,336.2 1319.8,332.6C1321.3,330.0 1324.5,326.8 1326.0,327.4C1328.5,328.5 1327.9,344.4 1328.5,354.5C1329.3,367.3 1329.3,383.3 1329.8,398.1C1330.3,413.4 1330.7,430.4 1331.3,444.8C1331.8,457.3 1332.2,479.7 1332.9,479.7C1333.6,479.7 1334.7,456.9 1335.4,444.8C1336.1,431.8 1336.1,415.2 1336.9,404.3C1337.4,396.9 1338.1,385.6 1338.8,385.6C1339.6,385.6 1340.2,413.5 1341.6,413.6C1342.8,413.7 1345.0,399.1 1346.3,391.8C1347.6,384.6 1347.8,374.9 1349.4,370.0C1350.3,367.3 1351.4,364.0 1352.5,364.1C1354.2,364.2 1356.6,379.6 1358.1,379.4C1359.9,379.2 1360.6,362.5 1361.8,354.5C1362.9,347.0 1363.4,338.2 1365.0,332.6C1366.1,328.9 1367.9,323.5 1369.0,323.6C1370.6,323.8 1371.6,335.0 1372.7,342.0C1374.1,351.0 1375.0,362.7 1375.9,373.1C1376.8,383.5 1377.0,397.9 1378.0,404.3C1378.5,407.2 1379.1,410.5 1379.6,410.5C1380.9,410.4 1382.3,371.6 1383.6,371.6C1384.9,371.6 1386.3,400.6 1387.4,413.6C1388.4,424.8 1389.0,435.3 1389.9,444.8C1390.7,452.9 1391.6,467.2 1392.4,467.2C1393.5,467.2 1394.6,442.5 1395.5,429.2C1396.4,414.4 1397.1,398.1 1397.7,382.5C1398.3,366.9 1398.4,349.4 1399.2,335.8C1399.8,325.2 1400.1,314.8 1401.7,307.7C1402.7,303.2 1404.3,297.0 1405.5,297.1C1407.2,297.2 1408.7,312.1 1410.1,320.2C1411.6,329.1 1412.4,342.1 1414.2,348.2C1415.1,351.4 1416.4,355.2 1417.3,355.1C1418.7,354.9 1419.5,343.0 1420.4,335.8C1421.6,326.7 1422.2,312.6 1423.5,304.6C1424.3,299.4 1425.6,292.0 1426.4,292.0C1427.3,292.0 1427.9,300.4 1428.6,305.0C1429.4,310.2 1429.8,321.8 1430.6,321.8C1431.2,321.8 1432.1,315.0 1432.8,312.0C1433.4,309.5 1434.1,308.1 1434.6,305.0C1435.5,299.2 1435.2,286.1 1436.3,279.5C1437.0,275.2 1437.9,272.0 1439.0,269.0C1439.9,266.5 1441.2,264.8 1442.3,262.5C1443.5,259.9 1444.5,256.0 1446.0,254.0C1447.1,252.6 1448.8,250.7 1449.7,251.0C1450.8,251.4 1450.8,255.3 1451.2,258.0C1451.7,261.7 1451.7,265.6 1452.0,271.0C1452.4,279.7 1452.9,294.8 1453.3,305.0C1453.6,313.4 1453.5,321.8 1454.3,328.0C1454.9,332.3 1456.0,338.7 1456.8,338.7C1457.7,338.7 1458.8,332.8 1459.4,328.0C1460.5,318.6 1459.8,295.8 1460.5,285.4C1460.9,279.3 1461.7,275.8 1462.2,271.0C1462.8,266.1 1463.3,256.1 1463.8,256.1C1464.4,256.1 1465.1,271.5 1465.6,279.5C1466.1,287.8 1466.4,296.5 1466.7,305.0C1467.0,313.5 1467.4,318.7 1467.6,330.5C1468.1,357.0 1467.8,419.9 1468.2,460.0C1468.5,494.8 1469.0,557.5 1469.6,557.5C1470.2,557.5 1471.1,492.1 1471.8,460.0C1472.5,428.6 1473.2,390.8 1473.8,366.9C1474.1,352.0 1474.5,341.6 1474.7,330.5C1474.9,321.2 1474.9,312.4 1475.2,305.0C1475.4,299.3 1475.4,294.1 1476.0,290.0C1476.4,287.1 1476.7,283.4 1477.8,282.8C1478.4,282.5 1479.3,283.2 1480.0,283.5C1480.8,283.8 1481.7,284.8 1482.3,284.5C1483.5,283.9 1483.7,279.2 1484.2,276.0C1484.8,271.9 1484.9,266.5 1485.3,262.0C1485.7,257.8 1485.9,253.6 1486.4,250.0C1486.8,246.9 1487.1,243.8 1487.8,241.5C1488.3,239.9 1489.0,239.1 1489.5,237.5C1490.2,235.4 1490.6,232.2 1491.5,230.0C1492.3,228.2 1493.6,225.2 1494.3,225.3C1495.2,225.5 1495.5,230.7 1496.0,233.8C1496.6,237.6 1496.9,242.3 1497.7,246.5C1498.6,250.8 1500.2,255.0 1501.1,259.3C1501.9,263.5 1502.3,267.5 1502.8,272.0C1503.4,277.0 1504.0,282.6 1504.5,288.0C1505.0,293.6 1505.2,299.6 1505.8,305.0C1506.4,309.9 1507.0,318.8 1507.9,318.8C1508.7,318.8 1510.0,312.2 1510.6,308.0C1511.4,302.4 1511.1,293.9 1511.4,288.0C1511.7,283.2 1511.8,278.7 1512.4,275.0C1512.8,272.2 1513.5,267.8 1514.1,267.8C1514.6,267.8 1515.2,270.1 1515.6,272.0C1516.4,275.6 1516.8,282.6 1517.3,288.0C1517.8,293.6 1518.2,299.3 1518.6,305.0C1519.0,310.7 1519.4,315.8 1519.6,322.0C1519.9,329.3 1519.9,337.5 1520.1,346.0C1520.3,355.7 1520.7,366.5 1521.0,377.0C1521.3,387.8 1521.7,398.8 1522.1,410.0C1522.5,421.5 1522.8,433.3 1523.2,445.0C1523.6,456.7 1523.9,468.3 1524.3,480.0C1524.6,491.7 1525.0,504.3 1525.3,515.0C1525.6,524.0 1525.7,532.1 1526.0,540.0C1526.3,547.0 1526.4,553.7 1527.0,560.0C1527.5,565.6 1528.4,575.9 1529.0,575.9C1529.6,575.9 1530.2,565.7 1530.6,560.0C1531.0,553.3 1530.9,545.7 1531.2,538.3C1531.5,530.7 1532.1,522.8 1532.6,515.0C1533.1,507.2 1533.6,500.1 1534.0,491.5C1534.5,481.0 1534.5,467.6 1535.1,456.6C1535.6,446.7 1536.4,436.8 1537.1,428.3C1537.7,421.3 1538.0,414.1 1538.8,409.0C1539.3,405.6 1540.1,400.6 1540.6,400.6C1541.1,400.6 1541.6,405.2 1542.0,408.0C1542.5,411.5 1542.7,416.6 1543.0,420.0C1543.3,422.5 1543.6,426.6 1543.8,426.6C1544.1,426.6 1544.2,419.3 1544.4,415.0C1544.6,409.4 1544.7,402.7 1544.9,396.0C1545.1,388.5 1545.2,380.1 1545.4,372.0C1545.6,363.8 1545.6,356.1 1545.9,347.2C1546.3,336.8 1547.1,324.6 1547.6,313.3C1548.1,302.0 1548.1,289.2 1548.7,279.3C1549.1,271.7 1549.9,264.7 1550.4,259.0C1550.8,254.8 1550.8,251.0 1551.5,248.0C1552.0,245.8 1552.9,244.6 1553.5,242.5C1554.3,239.9 1554.8,236.2 1555.6,233.5C1556.3,231.1 1557.1,227.0 1557.8,227.0C1558.5,227.0 1559.2,230.6 1559.8,233.0C1560.6,236.3 1561.1,240.9 1561.7,245.3C1562.5,250.5 1563.1,255.9 1564.0,262.3C1565.2,270.5 1567.5,281.8 1568.5,290.6C1569.4,298.2 1569.4,306.3 1570.0,312.0C1570.4,315.9 1571.0,321.7 1571.5,321.7C1572.0,321.7 1572.5,314.4 1572.9,310.0C1573.4,304.4 1573.7,297.3 1574.2,290.6C1574.7,283.4 1575.4,275.0 1575.9,268.0C1576.3,261.9 1576.3,256.0 1577.0,251.0C1577.6,246.9 1578.2,242.8 1579.3,240.0C1580.1,238.1 1581.2,235.4 1582.1,235.4C1583.0,235.4 1583.8,238.2 1584.6,239.5C1585.3,240.6 1586.0,242.6 1586.6,242.5C1587.3,242.4 1587.9,239.8 1588.4,238.0C1589.1,235.5 1589.5,231.7 1590.3,229.0C1591.0,226.8 1592.1,223.0 1592.9,223.0C1593.6,223.0 1594.4,226.0 1595.0,228.0C1595.8,230.6 1596.1,234.1 1596.8,237.4C1597.6,241.0 1598.6,248.6 1599.7,248.7C1600.5,248.8 1601.5,245.5 1602.3,243.5C1603.2,241.2 1603.6,237.6 1604.8,235.5C1605.7,233.9 1606.8,232.0 1608.2,231.7C1609.6,231.3 1612.0,232.5 1613.3,233.6C1614.6,234.6 1615.5,236.3 1616.2,238.0C1617.1,240.1 1617.4,242.2 1617.8,245.3C1618.6,250.8 1618.8,262.0 1619.3,268.0C1619.7,271.9 1620.0,277.6 1620.4,277.6C1620.8,277.6 1621.3,271.9 1621.7,268.0C1622.3,262.0 1622.1,251.5 1622.9,245.3C1623.4,240.9 1624.2,234.1 1625.1,234.0C1625.7,233.9 1626.5,236.8 1627.0,238.5C1627.6,240.5 1627.6,242.6 1628.0,245.3C1628.5,249.1 1629.1,254.8 1629.7,258.9C1630.2,262.2 1630.6,265.5 1631.3,268.0C1631.8,269.9 1632.3,272.7 1633.1,272.8C1633.8,272.9 1634.8,271.1 1635.5,270.0C1636.4,268.6 1636.9,266.0 1638.0,265.0C1638.8,264.3 1639.8,263.7 1640.6,264.0C1641.8,264.5 1642.5,267.3 1643.3,270.0C1644.7,274.8 1645.9,284.5 1646.7,290.6C1647.4,295.5 1647.6,300.3 1648.2,304.0C1648.6,306.6 1649.1,310.6 1649.6,310.6C1650.2,310.6 1651.0,304.5 1651.6,301.0C1652.3,297.0 1652.8,292.1 1653.6,288.0C1654.4,284.2 1655.1,280.8 1656.3,277.0C1657.7,272.7 1659.9,268.3 1661.5,263.5C1663.3,258.3 1666.5,247.0 1666.5,247.0" stroke="#0f0" stroke-width="8.4"/>
</g>
<g class="dash" stroke-linecap="round">
<path d="M657.5,151.7 V1084.1" stroke-width="3" stroke-dasharray="13 13.28"/>
<path d="M1206,158.2 V1089" stroke-width="4" stroke-dasharray="12 14.28"/>
<path d="M1434,155 V1086.8" stroke-width="4" stroke-dasharray="12 14.28"/>
<path d="M1471,157.7 V1089" stroke-width="4" stroke-dasharray="12 14.28"/>
</g>
<path d="M1423.6,184.3 L1375,147.5" stroke="#000" stroke-width="3" fill="none"/>
<path d="M1362,137.5 L1388.5,149 L1379.5,161 Z" fill="#000"/>
<path d="M1478.6,169.1 L1522,138" stroke="#000" stroke-width="3" fill="none"/>
<path d="M1535.7,129 L1518,151 L1509,138.5 Z" fill="#000"/>
<text x="600.8" y="136" font-size="47">2956</text>
<text x="1157.2" y="133.3" font-size="47">1622</text>
<text x="1316.4" y="129" font-size="47">1072</text>
<text x="1513" y="130" font-size="47">980</text>
<text x="809.1" y="330" font-size="47">IM4F-Py-COF</text>
<text x="757.4" y="560.6" font-size="47">BMIM4F-Py-COF</text>
<text x="826" y="746.1" font-size="47">4F-Py-COF</text>
</svg></body></html>
